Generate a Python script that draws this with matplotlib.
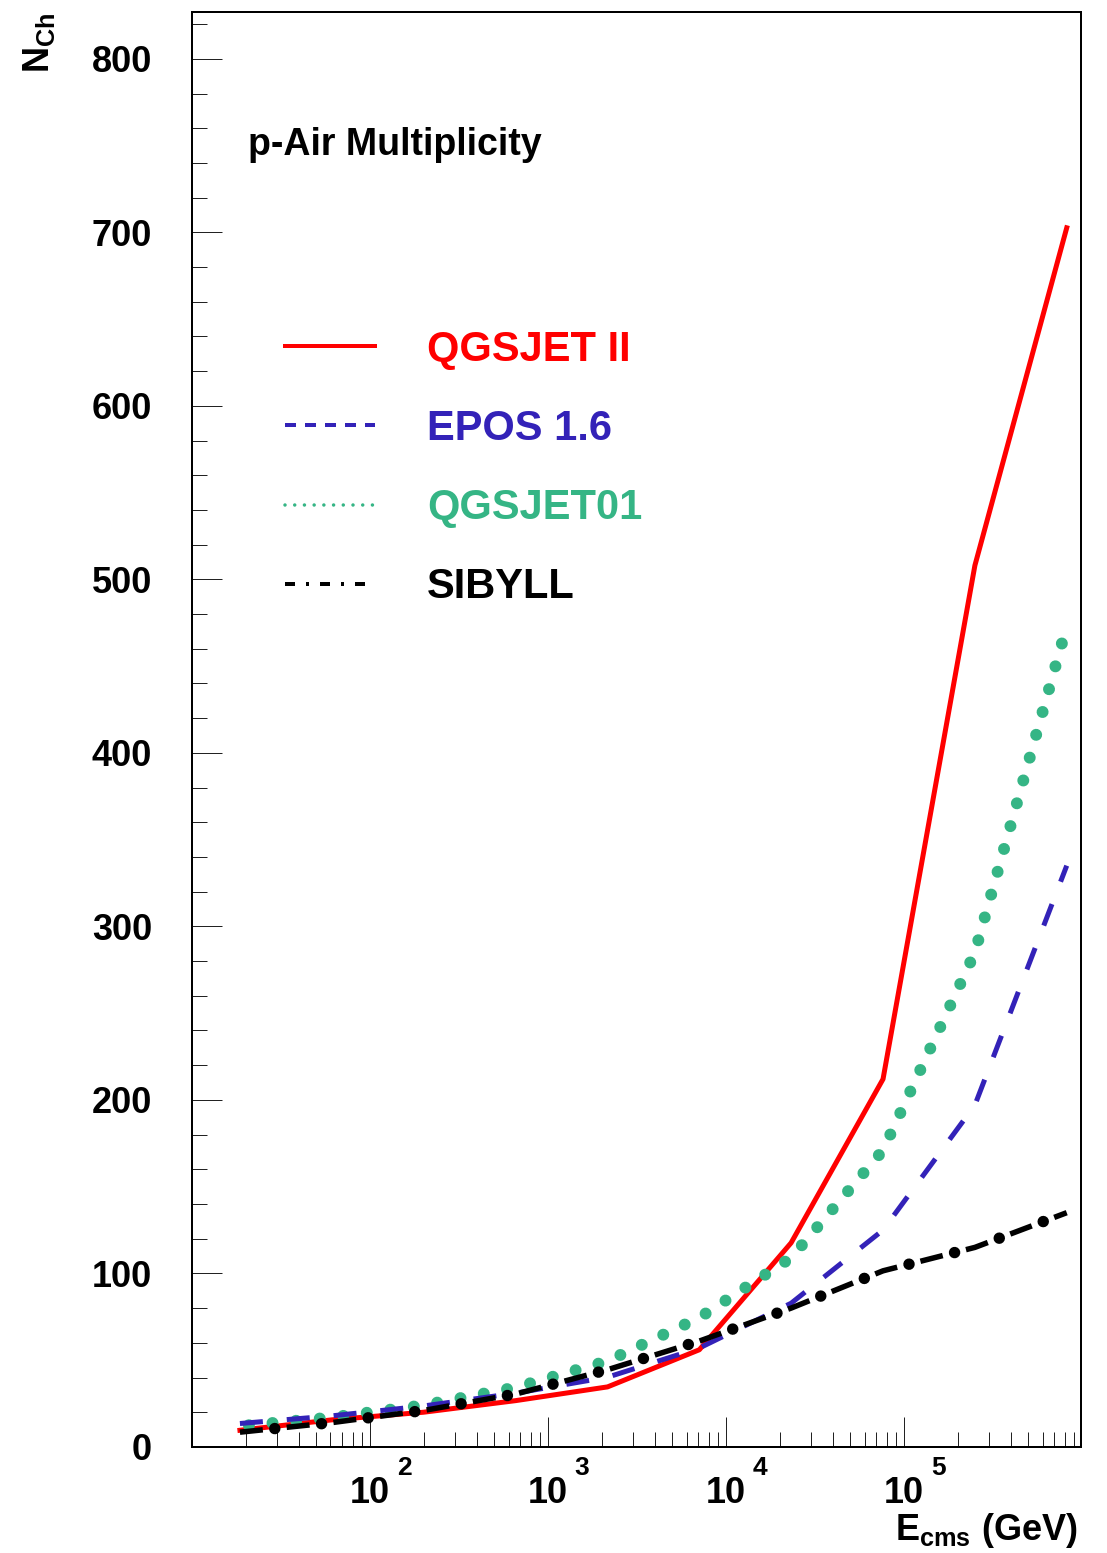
import matplotlib
matplotlib.use('Agg')
import matplotlib.pyplot as plt
from matplotlib.lines import Line2D
from matplotlib.ticker import MultipleLocator, LogLocator, NullFormatter, FixedLocator

plt.rcParams['font.family'] = ['Liberation Sans', 'DejaVu Sans']
plt.rcParams['font.weight'] = 'bold'
plt.rcParams['mathtext.fontset'] = 'custom'
plt.rcParams['mathtext.rm'] = 'Liberation Sans:bold'
plt.rcParams['mathtext.bf'] = 'Liberation Sans:bold'
plt.rcParams['mathtext.it'] = 'Liberation Sans:bold'
plt.rcParams['lines.scale_dashes'] = False

PX = 0.72  # points per pixel at dpi=100

# --- data ---
e_cms = [18.6, 61, 200, 660, 2160, 7080, 23200, 76200, 250000, 820000]
qgsjet2 = [9.6, 15.6, 20.0, 26.7, 34.6, 56.0, 117.6, 212.0, 508.0, 702.6]
epos = [13.5, 17.9, 23.6, 31.0, 40.2, 57.0, 82.8, 125.0, 197.0, 335.0]
qgsjet01 = [12.0, 17.0, 24.0, 34.3, 49.5, 74.5, 109.0, 171.0, 285.0, 473.0]
sibyll = [8.5, 14.0, 21.0, 30.5, 44.5, 61.0, 80.0, 101.5, 115.0, 135.0]

labels = ['QGSJET II', 'EPOS 1.6', 'QGSJET01', 'SIBYLL']
x_major = [1e2, 1e3, 1e4, 1e5]
x_exps = ['2', '3', '4', '5']

RED = '#ff0000'
BLUE = '#3322b8'
GREEN = '#35b585'
BLACK = '#000000'

fig = plt.figure(figsize=(11.07, 15.53), dpi=100)
ax = fig.add_axes([0.1734, 0.0683, 0.8031, 0.9240])

# curves
ax.plot(e_cms, qgsjet2, color=RED, lw=5 * PX)
ax.plot(e_cms, qgsjet01, color=GREEN, lw=12 * PX,
        linestyle=(14.7 * PX, (0.01, 23.7 * PX)), dash_capstyle='round')
ax.plot(e_cms, epos, color=BLUE, lw=5 * PX,
        linestyle=(0, (23 * PX, 24 * PX)), dash_capstyle='butt')
ax.plot(e_cms, sibyll, color=BLACK, lw=5.5 * PX,
        linestyle=(0, (23 * PX, 24 * PX)), dash_capstyle='butt')
ax.plot(e_cms, sibyll, color=BLACK, lw=11.5 * PX,
        linestyle=(12 * PX, (0.01, 47 * PX)), dash_capstyle='round')

# axes setup
ax.set_xscale('log')
ax.set_xlim(10, 9.86e5)
ax.set_ylim(0, 827)
ax.xaxis.set_major_locator(FixedLocator(x_major))
ax.xaxis.set_minor_locator(LogLocator(base=10, subs=range(2, 10), numticks=30))
ax.xaxis.set_major_formatter(NullFormatter())
ax.xaxis.set_minor_formatter(NullFormatter())
ax.yaxis.set_major_locator(MultipleLocator(100))
ax.yaxis.set_minor_locator(MultipleLocator(20))
ax.tick_params(which='both', direction='in', top=False, right=False, color='#222222')
ax.tick_params(which='major', length=30 * PX, width=1 * PX)
ax.tick_params(which='minor', length=15 * PX, width=1 * PX)
ax.tick_params(axis='y', labelsize=26, pad=40 * PX)
for s in ax.spines.values():
    s.set_linewidth(2 * PX)

# x tick labels in ROOT style: "10" with a big exponent to the right
trans = ax.get_xaxis_transform()
for pos, ex in zip(x_major, x_exps):
    ax.text(pos, -0.039, '10', transform=trans, ha='center', va='baseline', fontsize=26)
    ax.text(pos * 10 ** (34 / 178), -0.0195, ex, transform=trans, ha='center',
            va='baseline', fontsize=19)

# axis titles
fig.text(1078 / 1107, 1 - 1540 / 1553, r'$\mathbf{E}_{\mathbf{cms}}$ (GeV)',
         ha='right', va='baseline', fontsize=26)
fig.text(39 / 1107, 1 - 12 / 1553, r'$\mathbf{N}_{\mathbf{Ch}}$', rotation=90,
         ha='center', va='top', fontsize=26)

ax.text(0.063, 0.9003, 'p-Air Multiplicity', transform=ax.transAxes,
        fontsize=27, va='baseline')

# legend with its own (smaller) line patterns
handles = [
    Line2D([], [], color=RED, lw=4 * PX),
    Line2D([], [], color=BLUE, lw=4 * PX, linestyle=(0, (11 * PX, 9 * PX)), dash_capstyle='butt'),
    Line2D([], [], color=GREEN, lw=3.5 * PX, linestyle=(0, (0.01, 9.7 * PX)), dash_capstyle='round'),
    Line2D([], [], color=BLACK, lw=4 * PX,
           linestyle=(0, (10 * PX, 11 * PX, 3 * PX, 11 * PX)), dash_capstyle='butt'),
]
ax.legend(handles, labels, loc='upper left', bbox_to_anchor=(0.1046, 0.7785),
          frameon=False, fontsize=30, handlelength=2.16, handletextpad=1.25,
          labelspacing=0.94, borderpad=0, borderaxespad=0,
          labelcolor=[RED, BLUE, GREEN, BLACK])

fig.savefig('out.png', dpi=100)
